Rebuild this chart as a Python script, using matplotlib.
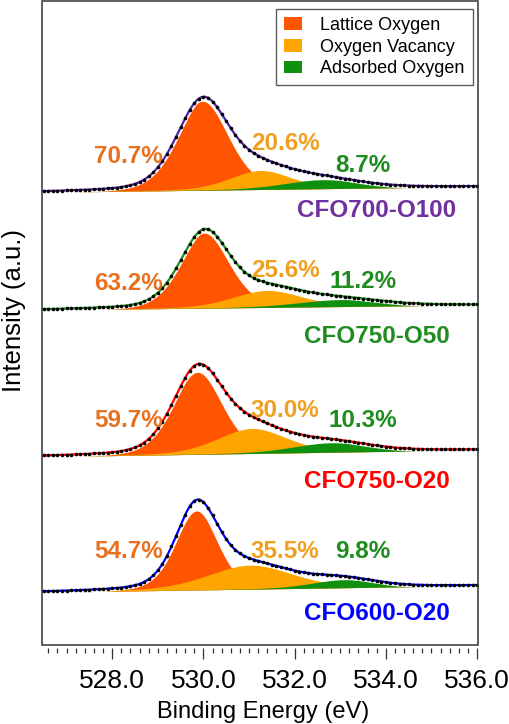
import numpy as np
import matplotlib
matplotlib.use("Agg")
import matplotlib.pyplot as plt
import matplotlib.patheffects as pe
from matplotlib.patches import Patch, Rectangle
from matplotlib.ticker import MultipleLocator, FormatStrFormatter

plt.rcParams["font.family"] = ["Liberation Sans", "DejaVu Sans"]
plt.rcParams["xtick.labelsize"] = 19
plt.rcParams["xtick.major.size"] = 8
plt.rcParams["xtick.minor.size"] = 3.8
plt.rcParams["xtick.major.width"] = 0.9
plt.rcParams["xtick.minor.width"] = 0.9
plt.rcParams["xtick.major.pad"] = 7
plt.rcParams["xtick.color"] = "#333333"
plt.rcParams["xtick.labelcolor"] = "black"

# O 1s fits, top to bottom (peak centre eV, height, FWHM eV)
samples = ["CFO700-O100", "CFO750-O50", "CFO750-O20", "CFO600-O20"]
sample_colors = ["#7030A0", "#1E8C1E", "#FF0000", "#0000FF"]
envelope_colors = ["#5020A0", "#1E8C1E", "#FF0000", "#0000FF"]

lat_center = [529.98, 530.02, 529.87, 529.85]
lat_height = [89, 75, 82, 79]
lat_fwhm = [1.34, 1.27, 1.28, 1.08]

vac_center = [531.25, 531.40, 531.06, 531.02]
vac_height = [19, 17, 25, 24]
vac_fwhm = [1.6, 1.8, 1.8, 2.2]

ads_center = [532.60, 533.00, 532.80, 533.07]
ads_height = [9, 7, 9.5, 8]
ads_fwhm = [2.0, 2.2, 2.0, 1.7]

# background: level at left edge and rise to the right edge
bg_left = [452.7, 335.0, 188.3, 52.7]
bg_rise = [5.6, 5.0, 6.7, 6.6]

lat_pct = ["70.7%", "63.2%", "59.7%", "54.7%"]
vac_pct = ["20.6%", "25.6%", "30.0%", "35.5%"]
ads_pct = ["8.7%", "11.2%", "10.3%", "9.8%"]

# label baselines (y) for each spectrum
pct_y_lat = [482, 355, 218.3, 87]
pct_y_vac = [495, 368.3, 228.3, 87]
pct_y_ads = [473, 357, 218.3, 87]
name_y = [428, 302, 157, 25]

comp_colors = ["#FF5500", "#FFA500", "#109010"]
pct_colors = ["#E8701E", "#F0A020", "#1E8C1E"]
comp_names = ["Lattice Oxygen", "Oxygen Vacancy", "Adsorbed Oxygen"]

xmin, xmax = 526.45, 536.02


def gl(x, c, h, w, eta=0.3):
    d = (x - c) / w
    return h * ((1 - eta) * np.exp(-4 * np.log(2) * d ** 2) + eta / (1 + 4 * d ** 2))


fig = plt.figure(figsize=(5.09, 7.24), dpi=100)
ax = fig.add_axes([41.5 / 509, 1 - 645 / 724, 436.5 / 509, 644 / 724])

x = np.linspace(xmin, xmax, 600)
xd = np.arange(526.5, 536.01, 0.1)

for i in range(4):
    bg = bg_left[i] + bg_rise[i] * (x - xmin) / (xmax - xmin)
    bgd = bg_left[i] + bg_rise[i] * (xd - xmin) / (xmax - xmin)
    comps = [gl(x, lat_center[i], lat_height[i], lat_fwhm[i]),
             gl(x, vac_center[i], vac_height[i], vac_fwhm[i]),
             gl(x, ads_center[i], ads_height[i], ads_fwhm[i])]
    for k, c in enumerate(comps):
        ax.fill_between(x, bg, bg + c, color=comp_colors[k], lw=0, zorder=2 + k)
    total = bg + sum(comps)
    total_d = bgd + gl(xd, lat_center[i], lat_height[i], lat_fwhm[i]) \
        + gl(xd, vac_center[i], vac_height[i], vac_fwhm[i]) \
        + gl(xd, ads_center[i], ads_height[i], ads_fwhm[i])
    ax.plot(x, total, color=envelope_colors[i], lw=1.6, zorder=6,
            path_effects=[pe.Stroke(linewidth=4.2, foreground="white"), pe.Normal()])
    ax.plot(xd, total_d, "o", color="black", ms=2.6, mew=0, zorder=7)

    ax.text(528.35, pct_y_lat[i], lat_pct[i], color=pct_colors[0], fontsize=17.5,
            fontweight="bold", ha="center", va="baseline", zorder=8)
    ax.text(531.79, pct_y_vac[i], vac_pct[i], color=pct_colors[1], fontsize=17.5,
            fontweight="bold", ha="center", va="baseline", zorder=8)
    ax.text(533.50, pct_y_ads[i], ads_pct[i], color=pct_colors[2], fontsize=17.5,
            fontweight="bold", ha="center", va="baseline", zorder=8)
    ax.text(533.80, name_y[i], samples[i], color=sample_colors[i], fontsize=17.5,
            fontweight="bold", ha="center", va="baseline", zorder=8)

ax.set_xlim(xmin, xmax)
ax.set_ylim(0, 644)
ax.set_yticks([])

for s in ax.spines.values():
    s.set_visible(False)
ax.spines["bottom"].set_position(("outward", 2))
ax.add_patch(Rectangle((0, 0), 1, 1, transform=ax.transAxes, fill=False,
                       edgecolor="#333333", lw=1.1, clip_on=False, zorder=10))

ax.xaxis.set_major_locator(MultipleLocator(2))
ax.xaxis.set_minor_locator(MultipleLocator(0.2))
ax.xaxis.set_major_formatter(FormatStrFormatter("%.1f"))

fig.text(263.5 / 509, 1 - 718 / 724, "Binding Energy (eV)", fontsize=17,
         ha="center", va="baseline")
fig.text(14 / 509, 1 - 310 / 724, "Intensity (a.u.)", rotation=90, fontsize=18.5,
         ha="center", va="center")

handles = [Patch(facecolor=c, edgecolor="none") for c in comp_colors]
leg = ax.legend(handles, comp_names, loc="upper right",
                bbox_to_anchor=(473 / 509, 1 - 9 / 724), bbox_transform=fig.transFigure,
                fontsize=13, frameon=True, fancybox=False, borderaxespad=0,
                handlelength=1.0, handleheight=0.7, handletextpad=1.0,
                labelspacing=0.25, borderpad=0.45)
leg.get_frame().set_edgecolor("#333333")
leg.get_frame().set_linewidth(1.0)
leg.set_zorder(11)

fig.savefig("out.png", dpi=100)
